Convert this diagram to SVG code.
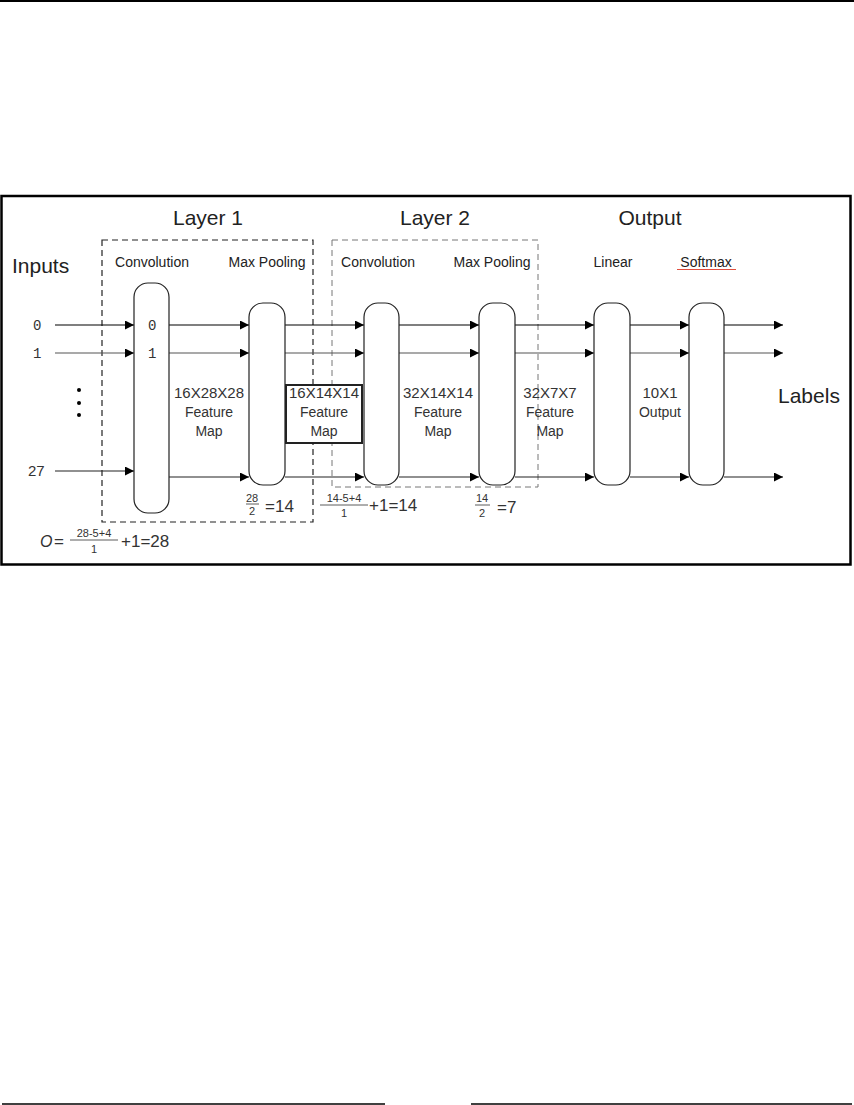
<svg xmlns="http://www.w3.org/2000/svg" width="854" height="1105" viewBox="0 0 854 1105">
<defs>
<marker id="ah" viewBox="0 0 10 10" refX="10" refY="5" markerWidth="10" markerHeight="9" markerUnits="userSpaceOnUse" orient="auto">
<path d="M0,0 L10,5 L0,10 Z" fill="#000"/>
</marker>
<style>
text{font-family:"Liberation Sans",Arial,sans-serif;fill:#222}
.big{font-size:21px;text-anchor:middle}
.lab{font-size:14px;text-anchor:middle}
.fm{font-size:14px;text-anchor:middle;fill:#333}
.num{font-size:15px}
.mono{font-family:"Liberation Mono","DejaVu Sans Mono",monospace;font-size:14px;fill:#333}
.pill{fill:#fff;stroke:#222;stroke-width:1.2}
.c1{stroke:#000;stroke-width:1.2;fill:none}
.c2{stroke:#555;stroke-width:1.2;fill:none}
.c3{stroke:#222;stroke-width:1.2;fill:none}
.frac{font-size:11px;text-anchor:middle;fill:#333}
.eq{font-size:17px;fill:#333}
</style>
</defs>
<rect width="854" height="1105" fill="#fff"/>
<line x1="0" y1="1" x2="854" y2="1" stroke="#000" stroke-width="2"/>
<line x1="2" y1="1104" x2="385" y2="1104" stroke="#000" stroke-width="1.5"/>
<line x1="471" y1="1104" x2="852" y2="1104" stroke="#000" stroke-width="1.5"/>
<rect x="1.5" y="196" width="849" height="368.5" fill="none" stroke="#000" stroke-width="2.5"/>

<g id="layer-labels">
<text class="big" x="208" y="225">Layer 1</text>
<text class="big" x="435" y="225">Layer 2</text>
<text class="big" x="650" y="225">Output</text>
<text x="12" y="273" style="font-size:21px">Inputs</text>
<text x="778" y="403" style="font-size:21px">Labels</text>
</g>

<g id="layer1-box"><rect x="102" y="240" width="211" height="282" fill="none" stroke="#222" stroke-width="1.2" stroke-dasharray="6,4"/></g>
<g id="layer2-box"><rect x="332" y="240" width="206" height="247" fill="none" stroke="#777" stroke-width="1" stroke-dasharray="6,4"/></g>

<g id="op-labels">
<text class="lab" x="152" y="267">Convolution</text>
<text class="lab" x="267" y="267">Max Pooling</text>
<text class="lab" x="378" y="267">Convolution</text>
<text class="lab" x="492" y="267">Max Pooling</text>
<text class="lab" x="613" y="267">Linear</text>
<text class="lab" x="706" y="267">Softmax</text>
<path d="M677,269.5 L736,269.5" fill="none" stroke="#e05040" stroke-width="1.2"/>
</g>

<g id="inputs">
<text class="mono" x="33" y="330">0</text>
<text class="mono" x="33" y="358">1</text>
<text x="28" y="476" style="font-size:15px;fill:#333">27</text>
<circle cx="79" cy="390" r="2" fill="#000"/>
<circle cx="79" cy="403" r="2" fill="#000"/>
<circle cx="79" cy="415" r="2" fill="#000"/>
</g>

<g id="connectors">
<line class="c1" x1="55" y1="325" x2="134" y2="325" marker-end="url(#ah)"/>
<line class="c2" x1="55" y1="353" x2="134" y2="353" marker-end="url(#ah)"/>
<line class="c3" x1="55" y1="471" x2="134" y2="471" marker-end="url(#ah)"/>

<line class="c1" x1="169" y1="325" x2="249" y2="325" marker-end="url(#ah)"/>
<line class="c2" x1="169" y1="353" x2="249" y2="353" marker-end="url(#ah)"/>
<line class="c3" x1="169" y1="477" x2="249" y2="477" marker-end="url(#ah)"/>

<line class="c1" x1="285" y1="325" x2="364" y2="325" marker-end="url(#ah)"/>
<line class="c2" x1="285" y1="353" x2="364" y2="353" marker-end="url(#ah)"/>
<line class="c3" x1="285" y1="477" x2="364" y2="477" marker-end="url(#ah)"/>

<line class="c1" x1="399" y1="325" x2="479" y2="325" marker-end="url(#ah)"/>
<line class="c2" x1="399" y1="353" x2="479" y2="353" marker-end="url(#ah)"/>
<line class="c3" x1="399" y1="477" x2="479" y2="477" marker-end="url(#ah)"/>

<line class="c1" x1="515" y1="325" x2="594" y2="325" marker-end="url(#ah)"/>
<line class="c2" x1="515" y1="353" x2="594" y2="353" marker-end="url(#ah)"/>
<line class="c3" x1="515" y1="477" x2="594" y2="477" marker-end="url(#ah)"/>

<line class="c1" x1="630" y1="325" x2="689" y2="325" marker-end="url(#ah)"/>
<line class="c2" x1="630" y1="353" x2="689" y2="353" marker-end="url(#ah)"/>
<line class="c3" x1="630" y1="477" x2="689" y2="477" marker-end="url(#ah)"/>

<line class="c1" x1="724" y1="325" x2="783" y2="325" marker-end="url(#ah)"/>
<line class="c2" x1="724" y1="353" x2="783" y2="353" marker-end="url(#ah)"/>
<line class="c3" x1="724" y1="477" x2="783" y2="477" marker-end="url(#ah)"/>
</g>

<g id="conv1">
<rect class="pill" x="134" y="283" width="35" height="230" rx="14"/>
<text class="mono" x="148" y="330">0</text>
<text class="mono" x="148" y="358">1</text>
</g>
<g id="maxpool1"><rect class="pill" x="249" y="303" width="36" height="182" rx="14"/></g>
<g id="conv2"><rect class="pill" x="364" y="303" width="35" height="182" rx="14"/></g>
<g id="maxpool2"><rect class="pill" x="479" y="303" width="36" height="182" rx="14"/></g>
<g id="linear"><rect class="pill" x="594" y="303" width="36" height="182" rx="14"/></g>
<g id="softmax"><rect class="pill" x="689" y="303" width="35" height="182" rx="14"/></g>

<g id="fm1">
<text class="fm num" x="209" y="398">16X28X28</text>
<text class="fm" x="209" y="417">Feature</text>
<text class="fm" x="209" y="436">Map</text>
</g>
<g id="fm2">
<rect x="286" y="385" width="76" height="58" fill="#fff" stroke="#222" stroke-width="2"/>
<text class="fm num" x="324" y="398">16X14X14</text>
<text class="fm" x="324" y="417">Feature</text>
<text class="fm" x="324" y="436">Map</text>
</g>
<g id="fm3">
<text class="fm num" x="438" y="398">32X14X14</text>
<text class="fm" x="438" y="417">Feature</text>
<text class="fm" x="438" y="436">Map</text>
</g>
<g id="fm4">
<text class="fm num" x="550" y="398">32X7X7</text>
<text class="fm" x="550" y="417">Feature</text>
<text class="fm" x="550" y="436">Map</text>
</g>
<g id="out">
<text class="fm num" x="660" y="398">10X1</text>
<text class="fm" x="660" y="417">Output</text>
</g>

<g id="formula1">
<text x="40" y="547" style="font-size:16px;font-style:italic;fill:#333">O</text>
<text class="eq" x="54" y="547">=</text>
<text class="frac" x="94" y="537">28-5+4</text>
<line x1="70" y1="540" x2="118" y2="540" stroke="#333" stroke-width="0.8"/>
<text class="frac" x="94" y="553">1</text>
<text class="eq" x="121" y="547">+1=28</text>
</g>
<g id="formula2">
<text class="frac" x="252" y="502">28</text>
<line x1="246" y1="504" x2="259" y2="504" stroke="#333" stroke-width="0.8"/>
<text class="frac" x="252" y="515">2</text>
<text class="eq" x="265" y="512">=14</text>
</g>
<g id="formula3">
<text class="frac" x="344" y="502">14-5+4</text>
<line x1="320" y1="505" x2="368" y2="505" stroke="#333" stroke-width="0.8"/>
<text class="frac" x="344" y="517">1</text>
<text class="eq" x="369" y="511">+1=14</text>
</g>
<g id="formula4">
<text class="frac" x="482" y="502">14</text>
<line x1="475" y1="505" x2="490" y2="505" stroke="#333" stroke-width="0.8"/>
<text class="frac" x="482" y="517">2</text>
<text class="eq" x="497" y="513">=7</text>
</g>
</svg>
